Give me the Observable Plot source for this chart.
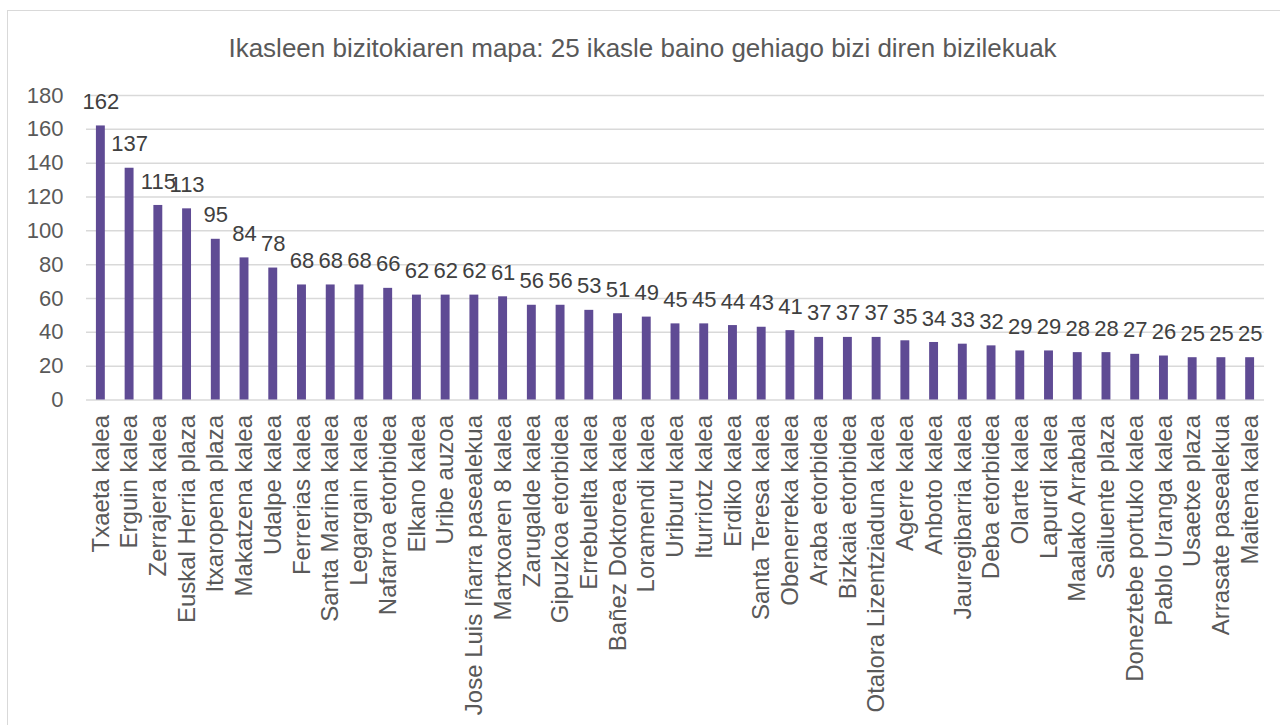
<!DOCTYPE html>
<html>
<head>
<meta charset="utf-8">
<script src="https://cdn.jsdelivr.net/npm/d3@7"></script>
<script src="https://cdn.jsdelivr.net/npm/@observablehq/plot@0.6"></script>
<style>
  html, body { margin: 0; padding: 0; background: #fff; overflow: hidden; }
  #wrap { position: relative; width: 1280px; height: 725px; }
  #frame { position: absolute; left: 7px; top: 10px; width: 1300px; height: 800px; border: 1.5px solid #d9d9d9; box-sizing: border-box; }
  #chart { position: absolute; left: 0; top: 0; }
</style>
</head>
<body>
<div id="wrap"><div id="frame"></div><div id="chart"></div></div>
<script>
const title = "Ikasleen bizitokiaren mapa: 25 ikasle baino gehiago bizi diren bizilekuak";

const streets = [
  "Txaeta kalea", "Erguin kalea", "Zerrajera kalea", "Euskal Herria plaza", "Itxaropena plaza",
  "Makatzena kalea", "Udalpe kalea", "Ferrerias kalea", "Santa Marina kalea", "Legargain kalea",
  "Nafarroa etorbidea", "Elkano kalea", "Uribe auzoa", "Jose Luis Iñarra pasealekua", "Martxoaren 8 kalea",
  "Zarugalde kalea", "Gipuzkoa etorbidea", "Errebuelta kalea", "Bañez Doktorea kalea", "Loramendi kalea",
  "Uriburu kalea", "Iturriotz kalea", "Erdiko kalea", "Santa Teresa kalea", "Obenerreka kalea",
  "Araba etorbidea", "Bizkaia etorbidea", "Otalora Lizentziaduna kalea", "Agerre kalea", "Anboto kalea",
  "Jauregibarria kalea", "Deba etorbidea", "Olarte kalea", "Lapurdi kalea", "Maalako Arrabala",
  "Sailuente plaza", "Doneztebe portuko kalea", "Pablo Uranga kalea", "Usaetxe plaza", "Arrasate pasealekua",
  "Maitena kalea"
];

const students = [
  162, 137, 115, 113, 95,
  84, 78, 68, 68, 68,
  66, 62, 62, 62, 61,
  56, 56, 53, 51, 49,
  45, 45, 44, 43, 41,
  37, 37, 37, 35, 34,
  33, 32, 29, 29, 28,
  28, 27, 26, 25, 25,
  25
];

const yTicks = [0, 20, 40, 60, 80, 100, 120, 140, 160, 180];

const data = streets.map((name, i) => ({name, value: students[i]}));

const chart = Plot.plot({
  width: 1280,
  height: 725,
  marginLeft: 86,
  marginRight: 16,
  marginTop: 95,
  marginBottom: 325.5,
  style: {fontFamily: "'Liberation Sans', Arial, sans-serif", fontSize: "22px", background: "transparent"},
  x: {domain: streets, paddingInner: 0.69, paddingOuter: 0.345, round: false, label: null},
  y: {domain: [0, 180], label: null},
  marks: [
    Plot.ruleY(yTicks, {stroke: "#d9d9d9", strokeWidth: 1.5}),
    Plot.barY(data, {x: "name", y: "value", fill: "#5f4b94"}),
    Plot.text(data, {x: "name", y: "value", text: d => String(d.value), dy: -24, fontSize: 22, fill: "#404040"}),
    Plot.axisY({ticks: yTicks, tickSize: 0, tickPadding: 23, fontSize: 22, color: "#595959", label: null}),
    Plot.axisX({tickSize: 0, tickPadding: 15, tickRotate: -90, fontSize: 24, color: "#595959", label: null}),
    Plot.text([title], {frameAnchor: "top", lineAnchor: "middle", dx: -33, dy: -47, fontSize: 26, fill: "#595959"})
  ]
});
document.getElementById("chart").appendChild(chart);
</script>
</body>
</html>
